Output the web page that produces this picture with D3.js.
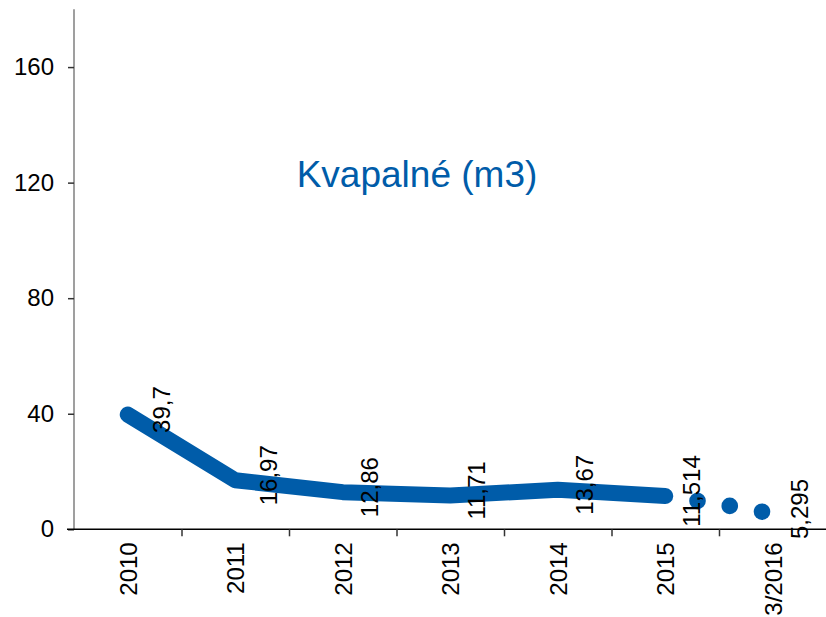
<!DOCTYPE html>
<html>
<head>
<meta charset="utf-8">
<script src="https://cdn.jsdelivr.net/npm/d3@7"></script>
<style>
  html, body { margin: 0; padding: 0; background: #fff; }
  svg { display: block; font-family: "Liberation Sans", Arial, sans-serif; }
</style>
</head>
<body>
<svg id="chart" width="826" height="617"></svg>
<script>
// ---- data ----
const categories = ["2010", "2011", "2012", "2013", "2014", "2015", "3/2016"];
const lineValues = [39.7, 16.97, 12.86, 11.71, 13.67, 11.514];
const lineLabels = ["39,7", "16,97", "12,86", "11,71", "13,67", "11,514"];
const dotPositions = [5.3, 5.6, 5.9];      // in category units (2010 = 0)
const dotValues = [9.8, 8.1, 6.1];
const lastLabelValue = 5.295;
const lastLabelText = "5,295";
const yTicks = [0, 40, 80, 120, 160];
const title = "Kvapalné (m3)";

// ---- layout ----
const svg = d3.select("#chart");
const mLeft = 74, mRight = 826.5, mTop = 9.3, mBottom = 529.3;
const blue = "#005CA9";
const fs = 24;

const x = d3.scaleLinear().domain([-0.5, categories.length - 0.5]).range([mLeft, mRight]);
const y = d3.scaleLinear().domain([0, 180]).range([mBottom, mTop]);

// Y axis
const yAxis = d3.axisLeft(y).tickValues(yTicks).tickSize(6).tickPadding(14).tickFormat(d3.format("d"));
const gy = svg.append("g").attr("transform", `translate(${mLeft},0)`).call(yAxis);
gy.select(".domain").attr("stroke", "#7f7f7f").attr("stroke-width", 1.5).attr("d", `M0,${mTop}V${mBottom}`);
gy.selectAll(".tick line").attr("stroke", "#333").attr("stroke-width", 1.5);
gy.selectAll(".tick text").attr("font-size", fs).attr("fill", "#000")
  .attr("font-family", "'Liberation Sans', Arial, sans-serif");

// X axis: ticks at category boundaries
const boundaries = d3.range(0, categories.length).map(i => i + 0.5);
const xAxis = d3.axisBottom(x).tickValues(boundaries).tickSize(7).tickFormat("");
const gx = svg.append("g").attr("transform", `translate(0,${mBottom})`).call(xAxis);
gx.select(".domain").attr("stroke", "#000").attr("stroke-width", 1.5).attr("d", `M${mLeft - 7},0H${mRight}`);
gx.selectAll(".tick line").attr("stroke", "#333").attr("stroke-width", 1.5);

// X category labels (rotated)
svg.append("g").selectAll("text").data(categories).join("text")
  .attr("transform", (d, i) => `translate(${x(i) + 9},${mBottom + 13}) rotate(-90)`)
  .attr("text-anchor", "end")
  .attr("font-size", fs)
  .attr("fill", "#000")
  .text(d => d);

// Title
svg.append("text")
  .attr("x", 417).attr("y", 187)
  .attr("text-anchor", "middle")
  .attr("font-size", 37)
  .attr("fill", blue)
  .text(title);

// Main thick line
const line = d3.line().x((d, i) => x(i)).y(d => y(d));
svg.append("path")
  .datum(lineValues)
  .attr("d", line)
  .attr("fill", "none")
  .attr("stroke", blue)
  .attr("stroke-width", 16)
  .attr("stroke-linejoin", "round")
  .attr("stroke-linecap", "round");

// Dots
svg.append("g").selectAll("circle").data(dotValues).join("circle")
  .attr("cx", (d, i) => x(dotPositions[i]))
  .attr("cy", d => y(d))
  .attr("r", 8.3)
  .attr("fill", blue);

// Data labels (rotated)
const labelData = lineValues.map((v, i) => ({ i, v, t: lineLabels[i] }));
labelData.push({ i: categories.length - 1, v: lastLabelValue, t: lastLabelText });
svg.append("g").selectAll("text").data(labelData).join("text")
  .attr("transform", d => `translate(${x(d.i) + (d.i < 2 ? 42 : 35)},${y(d.v) - 5}) rotate(-90)`)
  .attr("text-anchor", "middle")
  .attr("font-size", fs)
  .attr("fill", "#000")
  .text(d => d.t);
</script>
</body>
</html>
